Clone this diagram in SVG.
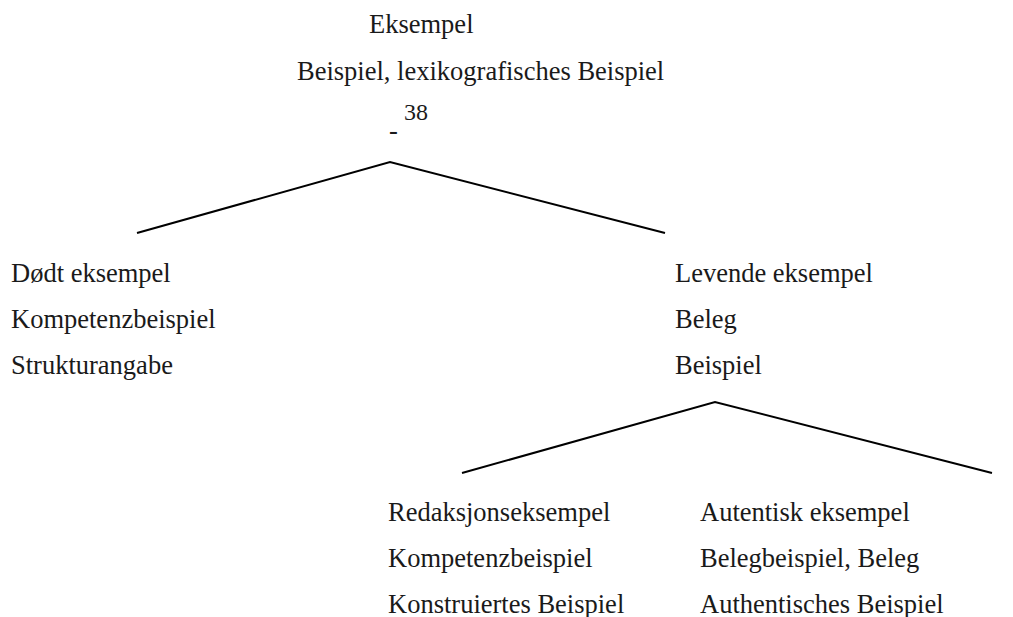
<svg xmlns="http://www.w3.org/2000/svg" width="1013" height="617" viewBox="0 0 1013 617">
<style>
text{font-family:"Liberation Serif","Times New Roman",serif;font-size:26.5px;fill:#1a1a1a}
.sm{font-size:24px}
.c{stroke:#000;stroke-width:2;fill:none}
</style>
<rect width="1013" height="617" fill="#fff"/>
<g id="root">
<text x="369" y="33">Eksempel</text>
<text x="297" y="80">Beispiel, lexikografisches Beispiel</text>
<text x="389" y="139">-</text>
<text class="sm" x="404" y="120">38</text>
</g>
<g id="dead">
<text x="11" y="282">Dødt eksempel</text>
<text x="11" y="328">Kompetenzbeispiel</text>
<text x="11" y="374">Strukturangabe</text>
</g>
<g id="living">
<text x="675" y="282">Levende eksempel</text>
<text x="675" y="328">Beleg</text>
<text x="675" y="374">Beispiel</text>
</g>
<g id="redaksjon">
<text x="388" y="521">Redaksjonseksempel</text>
<text x="388" y="567">Kompetenzbeispiel</text>
<text x="388" y="613">Konstruiertes Beispiel</text>
</g>
<g id="autentisk">
<text x="700" y="521">Autentisk eksempel</text>
<text x="700" y="567">Belegbeispiel, Beleg</text>
<text x="700" y="613">Authentisches Beispiel</text>
</g>
<g id="connectors">
<polyline class="c" points="137,233 390,162 665,233"/>
<polyline class="c" points="462,473 715,402 992,473"/>
</g>
</svg>
